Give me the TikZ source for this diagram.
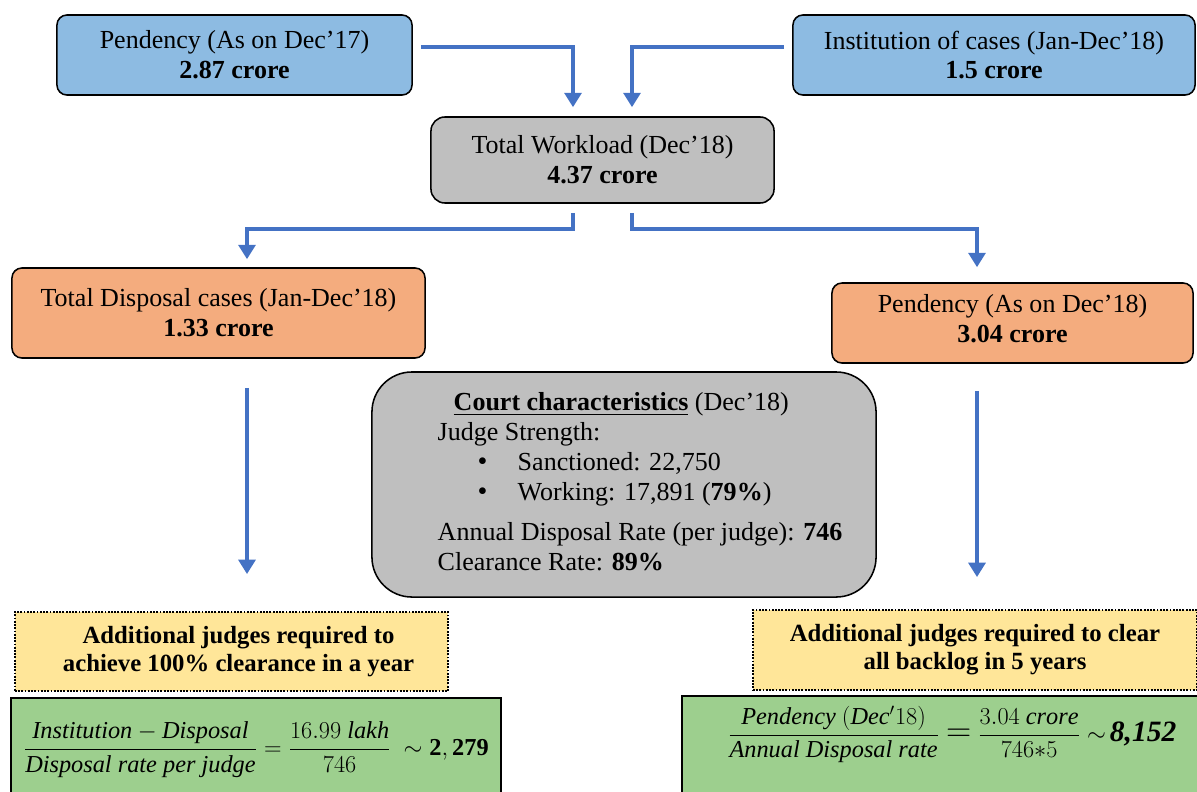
\documentclass[tikz,border=0pt]{standalone}
\usepackage{amsmath}
\usepackage{fontspec}
\setmainfont{Liberation Serif}
\usepackage{xcolor}
\definecolor{skyblue}{RGB}{141,187,226}
\definecolor{boxgray}{RGB}{191,191,191}
\definecolor{peach}{RGB}{244,172,126}
\definecolor{paleyellow}{RGB}{255,230,153}
\definecolor{leafgreen}{RGB}{157,207,142}
\definecolor{flowblue}{RGB}{68,114,196}
\usepackage{tikz}
\usetikzlibrary{arrows.meta,positioning,calc}
\tikzset{
  flow/.style={-{Triangle[length=0.36cm,width=0.42cm]},line width=2.8pt,draw=flowblue},
  box/.style={rectangle,draw,line width=1.1pt,rounded corners=0.25cm,align=center,
    font=\fontsize{18.5}{21.3}\selectfont,inner sep=2pt},
  input/.style={box,fill=skyblue,minimum height=2cm},
  workload/.style={box,fill=boxgray},
  outcome/.style={box,fill=peach},
  question/.style={rectangle,draw,densely dotted,line width=1.3pt,fill=paleyellow,align=center,
    font=\fontsize{17.6}{20}\selectfont\bfseries},
  formula/.style={rectangle,draw,line width=1.5pt,fill=leafgreen,anchor=north west,
    font=\fontsize{17.3}{20}\selectfont,inner xsep=0.3cm}
}
\newcommand{\dotitem}{\hspace*{1cm}\makebox[1cm][l]{\fontsize{20}{20}\selectfont\textbullet}}

\begin{document}
\begin{tikzpicture}[x=0.025cm,y=-0.025cm]
  \useasboundingbox (0,0) rectangle (1197,791);
  \clip (0,0) rectangle (1197,791);

  % Inputs
  \node[input,minimum width=8.875cm] (pend17) at (234.5,55) {Pendency (As on Dec’17)\\\textbf{2.87 crore}};
  \node[input,minimum width=10.05cm] (inst) at (994,55) {Institution of cases (Jan-Dec’18)\\\textbf{1.5 crore}};
  \node[workload,minimum width=8.575cm,minimum height=2.15cm,rounded corners=0.35cm] (total) at (602.5,160) {Total Workload (Dec’18)\\\textbf{4.37 crore}};

  % Outcomes
  \node[outcome,minimum width=10.325cm,minimum height=2.25cm] (disp) at (218.5,313) {Total Disposal cases (Jan-Dec’18)\\\textbf{1.33 crore}};
  \node[outcome,minimum width=9.025cm,minimum height=2cm,text depth=0.25cm] (pend18) at (1012.5,323) {Pendency (As on Dec’18)\\\textbf{3.04 crore}};

  % Court characteristics
  \node[workload,minimum width=12.6cm,minimum height=5.625cm,rounded corners=1cm,align=left] (court) at (624,484.5) {%
    \begin{tabular}{@{\hspace{0.8cm}}l@{}}
      \hspace{0.4cm}\underline{\textbf{Court characteristics}} (Dec’18)\\
      Judge Strength:\\
      \dotitem Sanctioned: 22,750\\
      \dotitem Working: 17,891 (\textbf{79\%})\\[0.25cm]
      Annual Disposal Rate (per judge): \textbf{746}\\
      Clearance Rate: \textbf{89\%}
    \end{tabular}};

  % Questions
  \node[question,minimum width=10.825cm,minimum height=1.975cm] (yelL) at (231.5,651.5) {\hspace*{0.35cm}Additional judges required to\\\hspace*{0.35cm}achieve 100\% clearance in a year};
  \node[question,minimum width=11.1cm,minimum height=2cm] (yelR) at (975,650) {Additional judges required to clear\\all backlog in 5 years};

  % Answers
  \node[formula,inner ysep=0.6cm,minimum width=12.25cm] (ansL) at (10,697)
    {$\dfrac{\mathit{Institution}-\mathit{Disposal}}{\mathit{Disposal\ rate\ per\ judge}}
      =\dfrac{16.99\ \mathit{lakh}}{746}\ \sim\mathbf{2,279}$\rule[-2cm]{0pt}{0pt}};
  \node[formula,inner ysep=0.25cm,minimum width=13.5cm] (ansR) at (681,695)
    {$\dfrac{\mathit{Pendency}\ (\mathit{Dec}'18)}{\mathit{Annual\ Disposal\ rate}}
      \mathrel{\text{\fontsize{24}{24}\selectfont$=$}}\dfrac{3.04\ \mathit{crore}}{746{*}5}\sim$%
      \,{\fontsize{21}{24}\selectfont\textbf{\textit{8,152}}}\rule[-2.5cm]{0pt}{0pt}};

  % Arrows
  \draw[flow] ($(pend17.east)+(8,-8)$) -| ($(total.north)+(-29.5,-9)$);
  \draw[flow] ($(inst.west)+(-8,-8)$) -| ($(total.north)+(29.5,-9)$);
  \draw[flow] ($(total.south)+(-29.5,9)$) -- ++(0,16) -| ($(disp.north)+(28.5,-8)$);
  \draw[flow] ($(total.south)+(29.5,9)$) -- ++(0,16) -| ($(pend18.north)+(-35.5,-15)$);
  \draw[flow] ($(disp.south)+(28.5,29)$) -- ($(yelL.north)+(15.5,-37)$);
  \draw[flow] ($(pend18.south)+(-35.5,27)$) -- ($(yelR.north)+(2,-32)$);
\end{tikzpicture}
\end{document}
